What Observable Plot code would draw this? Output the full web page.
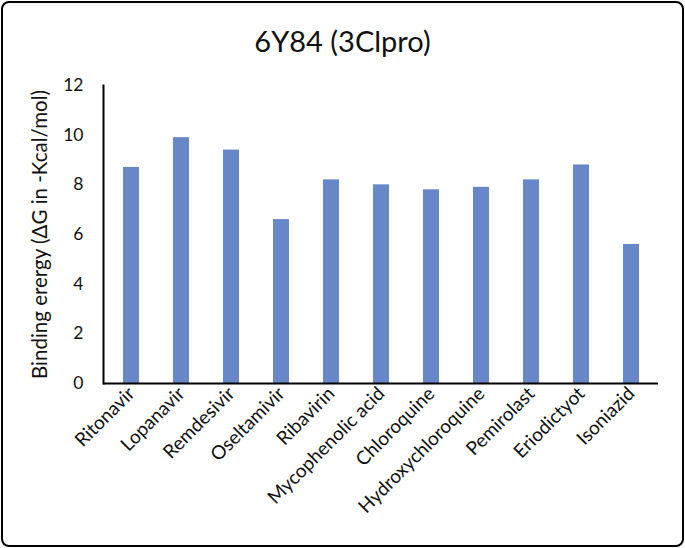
<!DOCTYPE html>
<html>
<head>
<meta charset="utf-8">
<script src="https://cdn.jsdelivr.net/npm/d3@7"></script>
<script src="https://cdn.jsdelivr.net/npm/@observablehq/plot@0.6"></script>
<style>
  html, body { margin: 0; padding: 0; background: #fff; }
  #wrap { position: relative; width: 685px; height: 548px; overflow: hidden; font-family: Lato, "Open Sans", sans-serif; }
  #title { height: 62px; line-height: 82px; text-align: center; font-size: 29px; color: #111; }
  #border { position: absolute; left: 1px; top: 1px; right: 1px; bottom: 1px; border: 2px solid #000; border-radius: 8px; pointer-events: none; }
  svg { display: block; }
</style>
</head>
<body>
<div id="wrap">
  <div id="title">6Y84 (3Clpro)</div>
  <div id="chart"></div>
  <div id="border"></div>
</div>
<script>
const categories = ["Ritonavir", "Lopanavir", "Remdesivir", "Oseltamivir", "Ribavirin", "Mycophenolic acid", "Chloroquine", "Hydroxychloroquine", "Pemirolast", "Eriodictyot", "Isoniazid"];
const values = [8.7, 9.9, 9.4, 6.6, 8.2, 8.0, 7.8, 7.9, 8.2, 8.8, 5.6];
const yTicks = [0, 2, 4, 6, 8, 10, 12];
const yLabel = "Binding erergy (\u0394G in -Kcal/mol)";

const data = categories.map((c, i) => ({name: c, value: values[i]}));

const width = 685, height = 486;
const marginLeft = 103, marginRight = 27, marginTop = 23, marginBottom = 165;

const chart = Plot.plot({
  width, height, marginLeft, marginRight, marginTop, marginBottom,
  style: {fontFamily: "Lato, 'Open Sans', sans-serif", fontSize: "17px", color: "#111", background: "#fff"},
  x: {domain: categories, paddingInner: 0.68, paddingOuter: 0.34, label: null},
  y: {domain: [0, 12], label: yLabel},
  marks: [
    Plot.barY(data, {x: "name", y: "value", fill: "#6787c9"}),
    Plot.frame({anchor: "left", stroke: "#000", strokeWidth: 2}),
    Plot.ruleY([0], {stroke: "#000", strokeWidth: 2}),
    Plot.axisY(yTicks, {tickSize: 0, tickPadding: 20, fontSize: 17.5, label: yLabel, labelAnchor: "center", labelArrow: false, labelOffset: 71}),
    Plot.axisX({tickSize: 0, tickPadding: 7, tickRotate: -45, fontSize: 19, label: null})
  ]
});
document.getElementById("chart").appendChild(chart);
chart.querySelectorAll("text").forEach(t => {
  if (t.textContent === yLabel) t.setAttribute("font-size", "20.5");
});
</script>
</body>
</html>
